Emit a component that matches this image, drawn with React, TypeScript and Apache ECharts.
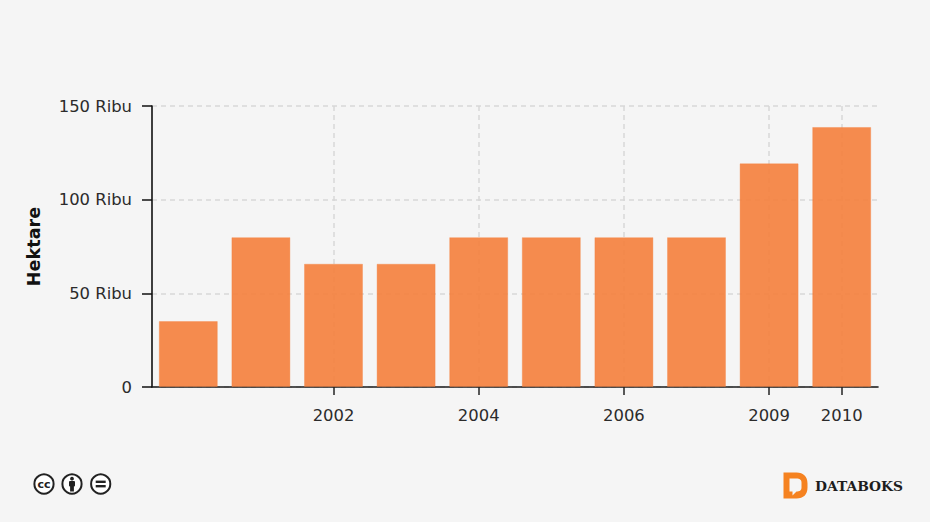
import React, { useEffect, useRef } from "react";
import * as echarts from "echarts";

const categories = ["2000", "2001", "2002", "2003", "2004", "2005", "2006", "2007", "2009", "2010"];
const hectares = [35200, 80000, 65800, 65800, 80000, 80000, 80000, 80000, 119400, 138800];
const labelledYears = ["2002", "2004", "2006", "2009", "2010"];
const yTicks: Record<number, string> = { 0: "0", 50000: "50 Ribu", 100000: "100 Ribu", 150000: "150 Ribu" };
const axisTitle = "Hektare";
const brand = "DATABOKS";

const FONT = "'DejaVu Sans'";
const BG = "#f5f5f5";
const INK = "#1d1d1d";

echarts.graphic.registerShape(
  "dbLogo",
  echarts.graphic.extendPath(
    "M0 0L13 0C20 0 24 4 24 11L24 15C24 22 20 26 13 26L0 26Z M6 6L6 19L9 19L9 23L13 19C16 19 18 18 18 15L18 10C18 7 16 6 13 6Z",
    {}
  ) as any
);

function ccBadge(cx: number, inner: any[]) {
  return {
    type: "group",
    x: cx,
    y: 484,
    children: [
      { type: "circle", shape: { cx: 0, cy: 0, r: 9.6 }, style: { fill: "#fff", stroke: "#222", lineWidth: 2 } },
      ...inner,
    ],
  };
}

export default function App() {
  const ref = useRef<HTMLDivElement>(null);
  useEffect(() => {
    document.body.style.margin = "0";
    document.body.style.background = BG;
    const chart = echarts.init(ref.current!, undefined, { renderer: "svg" });
    const isLabelled = (_: number, v: string) => labelledYears.includes(v);
    chart.setOption({
      animation: false,
      backgroundColor: BG,
      grid: { left: 152, right: 52, top: 106, bottom: 135 },
      xAxis: {
        type: "category",
        data: categories,
        axisLine: { onZero: false, lineStyle: { color: "#1a1a1a", width: 1.6 } },
        axisTick: { show: true, alignWithLabel: true, interval: isLabelled, length: 8, lineStyle: { color: "#222", width: 1.5 } },
        axisLabel: { interval: isLabelled, color: "#2b2b2b", fontFamily: FONT, fontSize: 16.4, margin: 20, hideOverlap: false },
        splitLine: { show: true, alignWithLabel: true, interval: isLabelled, lineStyle: { color: "#d8d8d8", type: [5, 4], width: 1.5 } },
      },
      yAxis: {
        type: "value",
        min: 0,
        max: 150000,
        interval: 50000,
        name: axisTitle,
        nameLocation: "middle",
        nameRotate: 90,
        nameGap: 109,
        nameMoveOverlap: false,
        nameTextStyle: { color: "#111", fontFamily: FONT, fontSize: 17.6, fontWeight: "bold" },
        axisLine: { show: true, lineStyle: { color: "#111", width: 1.6 } },
        axisTick: { show: true, length: 10, lineStyle: { color: "#111", width: 1.5 } },
        axisLabel: { color: "#2b2b2b", fontFamily: FONT, fontSize: 16.4, margin: 20, formatter: (v: number) => yTicks[v] ?? "" },
        splitLine: { show: true, lineStyle: { color: "#d8d8d8", type: [5, 4], width: 1.5 } },
      },
      series: [
        {
          type: "bar",
          data: hectares,
          barWidth: 59,
          itemStyle: { color: "rgba(245,128,60,0.9)", borderColor: "rgba(245,128,60,0.35)", borderWidth: 1 },
        },
      ],
      graphic: [
        ccBadge(44, [
          { type: "text", style: { x: 0, y: 0, text: "cc", align: "center", verticalAlign: "middle", font: "bold 11px 'DejaVu Sans'", fill: "#222" } },
        ]),
        ccBadge(72, [
          { type: "circle", shape: { cx: 0, cy: -5.3, r: 1.9 }, style: { fill: "#222" } },
          { type: "rect", shape: { x: -3, y: -3, width: 6, height: 5.5, r: 1 }, style: { fill: "#222" } },
          { type: "rect", shape: { x: -1.9, y: 2, width: 3.8, height: 5.5 }, style: { fill: "#222" } },
        ]),
        ccBadge(100.7, [
          { type: "rect", shape: { x: -5, y: -3.4, width: 10, height: 2.4 }, style: { fill: "#222" } },
          { type: "rect", shape: { x: -5, y: 1, width: 10, height: 2.4 }, style: { fill: "#222" } },
        ]),
        { type: "dbLogo", x: 783.5, y: 472.5, style: { fill: "#f58220" } },
        {
          type: "text",
          x: 815,
          y: 486,
          style: { text: brand, align: "left", verticalAlign: "middle", font: "bold 13.8px 'DejaVu Serif'", fill: INK },
        },
      ],
    });
    return () => chart.dispose();
  }, []);
  return <div ref={ref} style={{ position: "absolute", left: 0, top: 0, width: 930, height: 522 }} />;
}
